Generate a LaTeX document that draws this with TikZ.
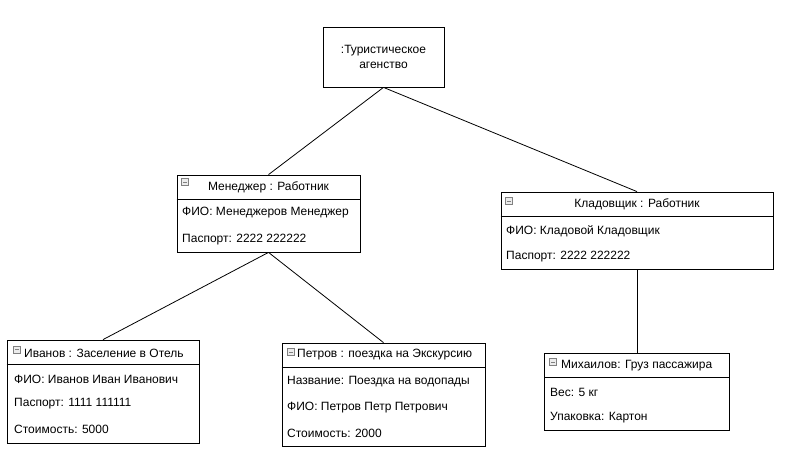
\documentclass[tikz,border=0pt]{standalone}
\usepackage{fontspec}
\setmainfont{Liberation Sans}
\usepackage{tikz}

\tikzset{
  objbox/.style={draw,line width=0.8pt,inner sep=0pt},
  title/.style={inner sep=0pt,font=\fontsize{12}{14}\selectfont},
  attr/.style={inner sep=0pt,anchor=west,font=\fontsize{12}{14}\selectfont},
  minusicon/.style={draw=gray,fill=gray!15,line width=0.5pt,inner sep=0pt,minimum size=7pt,
    path picture={\draw[line width=1pt] ([xshift=1.5pt]path picture bounding box.west) -- ([xshift=-1.5pt]path picture bounding box.east);}}
}

\begin{document}
\begin{tikzpicture}[x=1pt,y=-1pt]
    \useasboundingbox (0,0) rectangle (786,458);
    %
    \node[objbox,minimum width=121pt,minimum height=60pt,align=center,font=\fontsize{12}{15}\selectfont] (agency) at (383.5,57) {:Туристическое\\агенство};

    \node[objbox,minimum width=183pt,minimum height=77pt] (manager) at (268.5,213.5) {};
    \node[objbox,minimum width=272pt,minimum height=77pt] (keeper) at (637,230.5) {};

    \node[objbox,minimum width=192pt,minimum height=103pt] (ivanov) at (103,391.5) {};
    \node[objbox,minimum width=203pt,minimum height=103pt] (petrov) at (383.5,394.5) {};
    \node[objbox,minimum width=185pt,minimum height=77pt] (mikhailov) at (637,391.5) {};
    %
    \draw[line width=0.8pt] ([yshift=-25pt]manager.north west) -- ([yshift=-25pt]manager.north east);
    \draw[line width=0.8pt] ([yshift=-25pt]keeper.north west) -- ([yshift=-25pt]keeper.north east);
    \draw[line width=0.8pt] ([yshift=-25pt]ivanov.north west) -- ([yshift=-25pt]ivanov.north east);
    \draw[line width=0.8pt] ([yshift=-25pt]petrov.north west) -- ([yshift=-25pt]petrov.north east);
    \draw[line width=0.8pt] ([yshift=-25pt]mikhailov.north west) -- ([yshift=-25pt]mikhailov.north east);
    %
    \node[minusicon] (managericon) at (185,182) {};
    \node[title] (managertitle) at (268.5,187) {Менеджер : Работник};
    \node[attr] (managerfio) at (182,213) {ФИО: Менеджеров Менеджер};
    \node[attr] (managerpass) at (182,240) {Паспорт: 2222 222222};

    \node[minusicon] (keepericon) at (509,201) {};
    \node[title] (keepertitle) at (637,204) {Кладовщик : Работник};
    \node[attr] (keeperfio) at (506,231) {ФИО: Кладовой Кладовщик};
    \node[attr] (keeperpass) at (506,257) {Паспорт: 2222 222222};

    \node[minusicon] (ivanovicon) at (17,349.5) {};
    \node[attr] (ivanovtitle) at (24,353) {Иванов : Заселение в Отель};
    \node[attr] (ivanovfio) at (14,379) {ФИО: Иванов Иван Иванович};
    \node[attr] (ivanovpass) at (14,404) {Паспорт: 1111 111111};
    \node[attr] (ivanovcost) at (14,429) {Стоимость: 5000};

    \node[minusicon] (petrovicon) at (291,352) {};
    \node[attr] (petrovtitle) at (297,355) {Петров : поездка на Экскурсию};
    \node[attr] (petrovname) at (287,382) {Название: Поездка на водопады};
    \node[attr] (petrovfio) at (287,408) {ФИО: Петров Петр Петрович};
    \node[attr] (petrovcost) at (287,433) {Стоимость: 2000};

    \node[minusicon] (mikhailovicon) at (553,362) {};
    \node[attr] (mikhailovtitle) at (561,366) {Михаилов: Груз пассажира};
    \node[attr] (mikhailovweight) at (550,392) {Вес: 5 кг};
    \node[attr] (mikhailovpack) at (550,418) {Упаковка: Картон};
    %
    \draw[line width=0.8pt] (agency.south) edge (manager.north);
    \draw[line width=0.8pt] (agency.south) edge (keeper.north);

    \draw[line width=0.8pt] (manager.south) edge (ivanov.north);
    \draw[line width=0.8pt] (manager.south) edge (petrov.north);

    \draw[line width=0.8pt] (keeper.south) edge (mikhailov.north);
    %
\end{tikzpicture}
\end{document}
